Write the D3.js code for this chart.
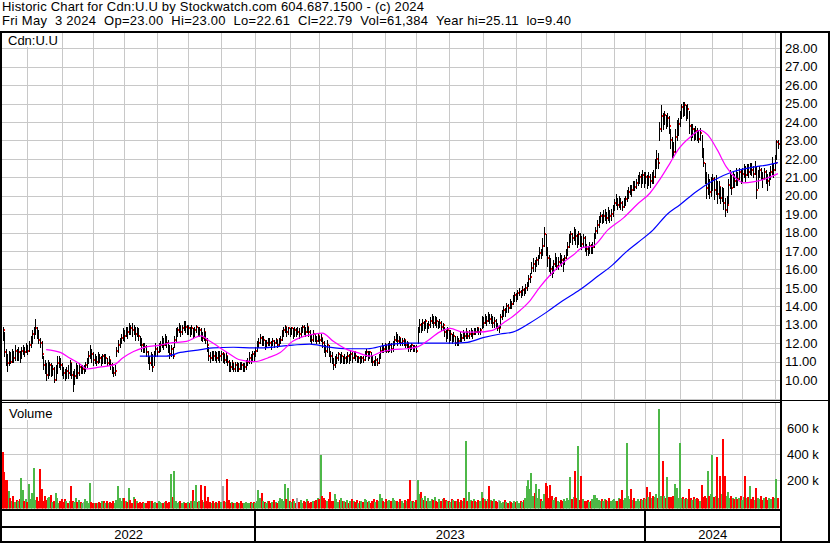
<!DOCTYPE html>
<html><head><meta charset="utf-8">
<script src="https://cdn.jsdelivr.net/npm/d3@7"></script>
<style>
html,body{margin:0;padding:0;background:#fff;}
svg{display:block;}
text{font-family:"Liberation Sans",Arial,sans-serif;}
</style></head><body>
<svg id="c" width="830" height="543"></svg>
<script>
const title1 = "Historic Chart for Cdn:U.U by Stockwatch.com 604.687.1500 - (c) 2024";
const title2 = "Fri May  3 2024  Op=23.00  Hi=23.00  Lo=22.61  Cl=22.79  Vol=61,384  Year hi=25.11  lo=9.40";
const symbolLabel = "Cdn:U.U";
const volumeLabel = "Volume";
const priceTicks = [10,11,12,13,14,15,16,17,18,19,20,21,22,23,24,25,26,27,28];
const priceGrid = [9,10,11,12,13,14,15,16,17,18,19,20,21,22,23,24,25,26,27,28];
const volTicks = [200000,400000,600000];
const monthStarts = [16,38,58,78,99,119,140,162,184,203,224,245,265,286,308,329,348,371,392,412,434,455,474,495];
const yearStarts = [162,412];
const yearLabels = ["2022","2023","2024"];

const close = [
12.7,11.5,11.2,10.9,11.3,11.0,11.4,11.2,11.6,11.3,
11.5,11.2,11.6,11.7,11.5,11.8,11.6,11.9,12.2,12.5,
12.7,12.8,12.6,12.2,12.0,11.4,10.8,10.6,10.3,10.5,
10.8,10.4,10.6,10.0,10.5,10.9,11.0,10.8,10.6,10.4,
10.2,10.5,10.4,10.9,10.3,9.8,10.2,10.6,10.4,10.7,
10.5,10.6,10.6,10.8,11.0,11.3,11.6,11.4,11.1,11.2,
11.0,11.3,11.2,11.0,11.3,11.1,11.2,10.9,11.1,10.8,
10.6,10.4,10.5,11.6,11.9,12.1,12.3,12.6,12.4,12.8,
12.6,12.9,12.8,12.7,12.8,12.5,12.7,12.4,12.1,11.9,
11.7,11.8,11.5,11.2,10.9,11.3,10.7,11.4,11.7,11.5,
11.8,11.9,12.1,11.9,12.3,12.0,11.8,11.4,11.7,11.3,
12.2,12.5,12.7,12.9,12.6,12.8,13.0,12.9,12.7,12.8,
12.6,12.8,12.5,12.7,12.9,12.6,12.7,12.5,12.3,12.6,
12.2,11.9,11.3,11.2,11.5,11.3,11.4,11.2,11.5,11.3,
11.4,11.4,11.1,11.3,11.0,10.8,10.7,10.9,10.6,10.8,
10.7,10.6,10.9,10.8,10.6,10.7,10.9,11.0,11.2,11.1,
11.4,11.3,11.6,11.9,12.0,12.3,12.1,12.2,11.9,12.0,
12.2,12.0,11.9,12.1,12.0,12.2,11.9,12.1,12.2,12.5,
12.7,12.9,12.6,12.8,12.6,12.8,12.5,12.7,12.6,12.6,
12.5,12.7,12.9,12.8,12.6,12.9,12.6,12.4,12.2,12.5,
12.3,12.1,12.4,12.2,12.3,12.0,11.8,11.6,11.9,11.5,
11.3,11.1,10.8,11.0,11.2,11.4,11.1,11.3,11.0,11.2,
11.0,11.3,11.1,11.4,11.2,11.5,11.3,11.1,11.2,11.0,
11.2,11.1,11.4,11.5,11.3,11.5,11.2,11.0,10.9,11.1,
10.9,11.2,11.6,11.8,11.7,11.9,11.6,11.8,11.9,11.7,
12.0,12.2,12.4,12.1,12.3,12.0,12.1,12.2,11.9,12.0,
11.8,11.7,11.9,11.7,11.8,11.6,12.6,13.0,12.8,13.1,
12.9,13.2,12.8,13.0,13.2,13.4,13.1,13.3,13.2,12.9,
13.1,12.9,13.0,12.6,12.4,12.7,12.3,12.5,12.2,12.4,
12.0,12.2,12.1,12.4,12.3,12.5,12.4,12.6,12.4,12.5,
12.6,12.5,12.7,12.6,12.8,12.6,12.7,13.3,13.1,13.4,
13.2,13.5,13.3,13.4,13.1,13.2,13.0,12.8,12.8,13.4,
13.6,13.8,13.7,14.0,13.9,14.2,14.1,14.4,14.6,14.5,
14.7,14.8,14.6,14.9,14.8,15.0,15.1,15.5,15.6,16.1,
16.3,16.2,16.5,16.6,16.9,16.8,17.3,17.9,17.0,16.6,
16.4,16.0,15.8,16.3,16.5,16.2,16.4,16.7,16.5,16.3,
16.6,16.9,17.2,17.6,17.9,17.7,18.0,17.8,17.5,17.9,
17.6,17.4,17.7,17.3,17.1,17.0,17.3,17.1,17.2,17.8,
18.1,18.4,18.6,18.9,18.7,18.9,19.0,18.8,19.1,18.9,
19.0,19.3,19.6,19.8,19.5,19.7,19.6,19.4,19.7,19.8,
20.0,20.2,20.4,20.3,20.6,20.5,20.7,20.9,21.0,20.8,
21.1,20.9,21.0,20.7,21.0,20.8,21.1,21.0,21.6,22.0,
21.8,23.6,24.3,24.0,24.4,23.9,24.2,23.8,23.0,22.6,
22.4,23.2,23.5,23.9,24.3,24.8,24.6,24.9,24.5,24.7,
23.8,23.4,23.6,23.2,23.5,23.3,23.1,23.4,22.4,21.8,
21.0,20.4,20.8,20.2,20.6,20.9,20.3,20.7,20.1,20.5,
19.9,20.3,19.6,19.2,19.5,20.6,20.9,20.4,21.0,20.8,
21.1,20.9,21.3,21.0,21.2,21.4,21.1,21.5,21.3,21.6,
21.4,21.2,21.5,20.3,21.1,21.4,21.2,20.9,21.3,21.1,
20.8,21.0,21.3,21.6,21.4,21.8,22.9,22.79];

const high = [
12.9,12.6,11.7,11.4,11.6,11.5,11.7,11.6,11.9,11.7,
11.8,11.6,11.8,11.9,11.8,12.0,11.9,12.1,12.4,12.7,
12.9,13.3,12.9,12.7,12.3,12.1,11.3,11.1,10.9,11.1,
11.0,10.9,10.8,10.7,10.8,11.3,11.3,11.2,10.9,10.7,
10.6,10.7,10.8,11.1,10.9,10.5,10.6,10.9,10.8,10.9,
10.8,10.8,10.8,11.0,11.2,11.6,11.9,11.7,11.5,11.4,
11.3,11.5,11.4,11.3,11.4,11.4,11.4,11.2,11.3,11.1,
10.9,10.7,10.8,11.8,12.2,12.3,12.5,12.8,12.7,12.9,
12.9,13.1,13.0,13.1,13.0,12.9,12.9,12.8,12.4,12.3,
12.0,12.0,11.9,11.6,11.3,11.5,11.4,11.6,12.0,11.8,
12.0,12.1,12.4,12.3,12.5,12.4,12.2,11.9,11.9,11.8,
12.4,12.8,12.9,13.1,13.0,13.0,13.2,13.2,13.0,13.0,
12.9,13.0,12.8,12.9,13.0,12.9,12.9,12.8,12.6,12.8,
12.6,12.3,11.8,11.5,11.6,11.6,11.6,11.5,11.6,11.6,
11.6,11.5,11.4,11.5,11.3,11.1,11.0,11.1,10.9,11.0,
11.0,10.9,11.0,11.0,10.9,10.9,11.1,11.2,11.5,11.4,
11.6,11.6,11.8,12.1,12.3,12.5,12.4,12.4,12.2,12.2,
12.3,12.3,12.1,12.3,12.2,12.3,12.2,12.3,12.4,12.7,
12.9,13.0,12.9,12.9,12.8,12.9,12.8,12.9,12.8,12.9,
12.8,12.9,13.0,13.0,12.9,13.1,12.9,12.7,12.5,12.7,
12.5,12.4,12.5,12.4,12.5,12.3,12.1,11.9,12.2,11.9,
11.6,11.5,11.2,11.3,11.4,11.5,11.4,11.5,11.3,11.4,
11.3,11.5,11.4,11.6,11.5,11.6,11.5,11.3,11.3,11.3,
11.3,11.3,11.6,11.7,11.6,11.6,11.5,11.3,11.1,11.3,
11.2,11.4,11.8,12.0,11.9,12.0,11.9,12.0,12.1,12.0,
12.1,12.4,12.6,12.5,12.4,12.3,12.3,12.3,12.2,12.1,
12.0,11.9,12.0,11.9,11.9,11.9,12.9,13.3,13.1,13.3,
13.2,13.3,13.1,13.2,13.4,13.6,13.5,13.5,13.4,13.2,
13.3,13.2,13.1,12.9,12.7,12.9,12.7,12.7,12.5,12.6,
12.4,12.4,12.3,12.6,12.5,12.7,12.6,12.8,12.6,12.7,
12.8,12.7,12.8,12.8,12.9,12.8,12.8,13.5,13.4,13.6,
13.5,13.7,13.6,13.6,13.5,13.4,13.3,13.1,13.0,13.6,
13.8,14.0,13.9,14.2,14.1,14.4,14.3,14.6,14.8,14.7,
14.9,15.0,14.9,15.1,15.0,15.2,15.3,15.7,15.8,16.4,
16.6,16.5,16.7,16.8,17.2,17.1,17.7,18.3,17.9,17.2,
16.8,16.6,16.2,16.5,16.9,16.7,16.7,16.9,16.8,16.6,
16.8,17.1,17.5,17.9,18.1,18.0,18.3,18.2,17.9,18.1,
18.0,17.8,17.9,17.8,17.4,17.3,17.5,17.4,17.5,18.0,
18.3,18.7,18.9,19.1,19.0,19.2,19.3,19.1,19.4,19.2,
19.3,19.5,19.8,20.1,19.9,20.0,19.9,19.7,19.9,20.0,
20.3,20.5,20.6,20.6,20.8,20.8,20.9,21.1,21.3,21.2,
21.4,21.3,21.3,21.1,21.3,21.2,21.3,21.4,22.0,22.5,
22.3,24.0,24.9,24.5,24.6,24.4,24.5,24.3,23.6,23.2,
22.9,23.6,24.1,24.2,24.6,25.0,25.11,25.1,24.9,25.0,
24.6,23.9,23.9,23.7,23.8,23.7,23.5,23.7,23.3,22.6,
21.8,21.3,21.2,20.9,21.0,21.2,21.0,21.1,20.8,20.8,
20.5,20.5,20.4,19.9,20.0,20.9,21.4,21.1,21.3,21.2,
21.5,21.3,21.5,21.4,21.5,21.7,21.6,21.7,21.7,21.8,
21.8,21.6,21.9,21.6,21.4,21.6,21.5,21.3,21.5,21.4,
21.2,21.3,21.6,22.1,21.8,22.2,23.0,23.0];

const low = [
12.2,11.3,10.8,10.5,10.8,10.9,11.0,11.0,11.1,11.1,
11.1,11.0,11.2,11.4,11.3,11.5,11.4,11.6,11.8,12.0,
12.3,12.5,12.3,12.0,11.8,11.2,10.6,10.4,10.0,10.1,
10.3,10.2,10.3,9.9,10.0,10.4,10.7,10.6,10.3,10.1,
10.0,10.1,10.1,10.3,10.1,9.4,9.8,10.1,10.1,10.3,
10.4,10.4,10.4,10.5,10.7,10.9,11.2,11.0,10.8,10.9,
10.8,10.9,11.0,10.8,10.9,10.9,10.9,10.8,10.8,10.6,
10.4,10.2,10.3,11.3,11.5,11.8,12.0,12.2,12.1,12.4,
12.3,12.5,12.5,12.4,12.5,12.2,12.4,12.2,11.9,11.6,
11.5,11.5,11.3,10.9,10.6,10.8,10.5,10.8,11.3,11.3,
11.5,11.6,11.8,11.7,11.9,11.8,11.5,11.2,11.3,11.2,
11.8,12.1,12.4,12.6,12.4,12.5,12.7,12.6,12.5,12.5,
12.4,12.5,12.3,12.4,12.6,12.4,12.4,12.2,12.1,12.2,
12.0,11.6,11.1,11.0,11.1,11.1,11.1,11.0,11.1,11.0,
11.1,11.0,10.9,11.0,10.8,10.5,10.5,10.6,10.5,10.5,
10.5,10.5,10.6,10.6,10.5,10.5,10.6,10.8,10.9,10.9,
11.1,11.1,11.3,11.6,11.8,12.0,11.9,11.9,11.7,11.8,
11.9,11.9,11.7,11.9,11.8,12.0,11.8,11.9,12.0,12.2,
12.4,12.6,12.4,12.5,12.4,12.5,12.3,12.4,12.4,12.5,
12.3,12.4,12.6,12.5,12.4,12.6,12.4,12.1,12.0,12.1,
12.1,12.0,12.1,12.0,12.1,11.8,11.5,11.3,11.5,11.3,
11.0,10.9,10.6,10.7,10.9,11.1,10.9,11.0,10.9,10.9,
10.9,11.0,10.9,11.1,11.0,11.2,11.1,11.0,11.0,10.9,
11.0,11.0,11.1,11.3,11.1,11.2,11.0,10.8,10.8,10.8,
10.8,10.9,11.2,11.5,11.5,11.6,11.5,11.5,11.6,11.5,
11.6,11.9,12.1,11.9,12.0,11.9,11.9,11.9,11.8,11.8,
11.6,11.6,11.7,11.6,11.6,11.5,12.0,12.6,12.6,12.7,
12.7,12.8,12.6,12.8,12.9,13.1,12.9,13.0,12.9,12.8,
12.9,12.7,12.7,12.4,12.1,12.3,12.0,12.2,12.0,12.1,
11.9,11.9,11.9,12.1,12.1,12.3,12.2,12.3,12.3,12.3,
12.4,12.3,12.5,12.5,12.6,12.5,12.5,12.8,12.9,13.1,
13.0,13.2,13.1,13.1,12.9,12.9,12.8,12.7,12.6,12.9,
13.3,13.5,13.5,13.7,13.7,13.9,13.9,14.1,14.3,14.3,
14.4,14.6,14.5,14.6,14.6,14.7,14.9,15.1,15.3,15.8,
15.9,15.9,16.2,16.3,16.6,16.6,16.8,17.3,16.8,16.2,
15.9,15.7,15.6,15.8,16.2,16.0,16.0,16.3,16.2,15.9,
16.3,16.6,16.8,17.2,17.5,17.4,17.6,17.4,17.2,17.4,
17.3,17.1,17.3,17.0,16.8,16.8,16.9,16.9,16.9,17.2,
17.7,18.0,18.3,18.6,18.5,18.6,18.7,18.5,18.7,18.6,
18.7,18.9,19.2,19.5,19.3,19.4,19.3,19.2,19.4,19.5,
19.7,19.9,20.1,20.0,20.3,20.3,20.4,20.6,20.7,20.5,
20.7,20.5,20.7,20.4,20.6,20.5,20.7,20.7,21.0,21.5,
21.5,23.0,23.5,23.6,23.9,23.7,23.8,23.4,22.6,22.1,
22.1,22.3,23.0,23.3,23.8,24.2,24.3,24.4,24.1,24.2,
23.4,23.0,23.2,23.0,23.1,23.0,22.9,23.0,22.1,21.6,
20.7,19.9,20.1,19.9,20.0,20.3,19.8,20.1,19.6,19.9,
19.6,19.7,19.3,18.9,19.1,19.6,20.4,20.1,20.5,20.5,
20.6,20.6,20.9,20.7,20.8,21.0,20.8,21.1,21.0,21.2,
21.1,21.0,21.2,19.9,20.4,21.0,20.9,20.5,20.9,20.7,
20.3,20.6,20.9,21.2,21.0,21.4,22.0,22.61];

// volume in thousands of units
const volume = [
420,260,200,200,117,60,40,80,30,45,
35,50,214,120,40,55,30,168,50,100,
290,45,70,40,282,130,35,80,45,60,
70,85,30,40,100,60,25,35,50,30,
50,40,25,35,153,40,30,60,30,45,
30,25,30,50,35,20,176,30,25,20,
25,20,30,20,40,35,25,40,20,30,
25,35,20,45,153,60,40,60,60,35,
30,138,45,25,70,55,40,20,30,25,
30,20,25,35,40,40,40,25,30,20,
35,30,25,20,30,40,25,30,245,70,
270,40,25,30,35,20,30,25,20,30,
25,35,125,40,160,30,35,160,45,30,
155,35,70,30,25,40,20,30,25,35,
30,150,40,30,206,45,25,30,20,25,
30,20,25,35,20,25,30,20,25,30,
25,30,20,35,125,60,100,40,30,25,
35,40,25,30,45,30,25,40,60,50,
40,168,55,140,40,30,50,35,25,60,
30,45,25,40,30,55,35,25,30,40,
35,45,60,50,390,80,60,45,40,55,
110,40,35,95,50,30,45,60,35,40,
30,45,25,40,50,35,30,45,25,35,
40,30,55,45,30,40,25,35,50,30,
45,35,90,60,40,30,50,35,45,40,
60,45,35,40,30,50,35,25,45,40,
55,200,40,35,30,45,200,90,110,60,
45,80,40,60,35,50,45,70,40,30,
55,40,50,60,45,35,40,30,55,45,
40,35,50,30,45,40,60,500,35,110,
45,35,50,40,30,45,35,110,60,50,
40,55,150,45,35,50,40,30,45,35,
25,30,45,30,20,40,30,25,35,30,
40,25,35,30,45,60,150,200,130,255,
80,100,170,60,130,50,40,90,175,150,
60,160,80,45,60,70,40,30,45,35,
50,40,60,45,220,50,70,270,60,465,
45,235,50,40,35,45,30,40,55,85,
85,60,45,35,50,40,55,45,35,60,
40,45,55,35,40,60,50,125,45,60,
490,75,50,130,45,60,40,55,35,50,
45,60,55,145,70,110,60,80,70,90,
60,750,80,345,75,60,220,70,70,65,
80,170,140,60,490,60,65,55,60,50,
130,60,45,70,55,60,50,40,160,70,
80,60,270,75,90,390,70,80,375,60,
230,90,520,230,75,110,60,80,60,50,
70,55,60,80,45,65,235,60,70,150,
55,70,45,140,60,50,80,45,60,70,
45,60,55,50,70,60,205,61.4];

// moving averages: bar index and value
const maShortIdx = [28,37,43,50,54,62,72,77,84,90,101,107,118,127,133,144,152,161,165,170,178,186,197,205,212,221,227,236,242,250,259,266,272,280,287,295,304,314,321,327,332,338,344,351,359,366,372,378,388,398,407,415,421,428,433,441,447,452,458,464,470,475,481,490,497];
const maShortVal = [11.65,11.5,11.2,10.85,10.6,10.7,10.85,11.2,11.55,11.75,11.9,12.0,12.1,12.4,12.1,11.5,11.1,11.0,11.05,11.2,11.5,12.1,12.45,12.55,12.1,11.65,11.5,11.3,11.5,11.65,11.7,11.8,12.1,12.6,12.8,12.6,12.6,12.7,13.1,13.45,13.8,14.3,15.0,15.7,16.35,16.8,17.2,17.25,18.15,18.8,19.55,20.15,20.85,21.8,22.5,23.2,23.55,23.3,22.5,21.55,20.95,20.7,20.75,20.95,21.2];
const maLongIdx = [88,105,114,127,135,148,161,165,186,197,208,221,234,246,259,285,298,308,319,327,338,349,359,370,381,391,399,407,417,426,434,445,455,468,481,492,497];
const maLongVal = [11.3,11.3,11.5,11.65,11.75,11.78,11.75,11.75,11.9,11.95,11.8,11.7,11.7,11.9,12.0,12.0,12.05,12.3,12.5,12.6,13.1,13.7,14.3,14.9,15.6,16.25,16.9,17.45,18.15,19.0,19.5,20.25,20.8,21.3,21.55,21.7,21.8];

const N = Math.min(close.length, high.length, low.length, volume.length);
const svg = d3.select("#c");
const FONT = "'Liberation Sans', Arial, sans-serif";
const PL = 2, PR = 780, PT = 33, PB = 400, VT = 403, VB = 508.5;

const x = d3.scaleLinear().domain([0, N - 1]).range([2.5, 778]);
const y = d3.scaleLinear().domain([9, 28]).range([398.5, 48.3]);
const vy = d3.scaleLinear().domain([0, 600000]).range([505.9, 428.3]);

svg.append("rect").attr("width",830).attr("height",543).attr("fill","#fff");

const defs = svg.append("defs");
defs.append("clipPath").attr("id","clipP").append("rect").attr("x",PL).attr("y",PT).attr("width",PR-PL).attr("height",PB-PT);
defs.append("clipPath").attr("id","clipV").append("rect").attr("x",PL).attr("y",VT).attr("width",PR-PL).attr("height",VB-VT);

// grids
const grid = svg.append("g").attr("shape-rendering","crispEdges").attr("stroke","#c8c8c8").attr("stroke-width",1);
priceGrid.forEach(v => {
  const yy = Math.round(y(v)) + 0.5;
  if (yy > PT && yy < PB) grid.append("line").attr("x1",PL).attr("x2",PR).attr("y1",yy).attr("y2",yy);
});
volTicks.forEach(v => {
  const yy = Math.round(vy(v)) + 0.5;
  grid.append("line").attr("x1",PL).attr("x2",PR).attr("y1",yy).attr("y2",yy);
});
monthStarts.forEach(i => {
  const xx = Math.round(x(i)) + 0.5;
  grid.append("line").attr("x1",xx).attr("x2",xx).attr("y1",PT).attr("y2",PB);
  grid.append("line").attr("x1",xx).attr("x2",xx).attr("y1",VT).attr("y2",VB);
});

// price bars: black high-low stroke with red close tick
const gBars = svg.append("g").attr("clip-path","url(#clipP)").attr("shape-rendering","crispEdges");
for (let i = 0; i < N; i++) {
  const xi = Math.round(x(i));
  const yt = Math.round(y(high[i])), yb = Math.round(y(low[i]));
  gBars.append("rect").attr("x", xi).attr("y", yt).attr("width", 1).attr("height", Math.max(1, yb - yt + 1)).attr("fill", "#000");
  gBars.append("rect").attr("x", xi + 1).attr("y", Math.round(y(close[i])) - 1).attr("width", 1).attr("height", 2).attr("fill", "#ff0000");
}

// moving averages
const line = d3.line().x(d => x(d[0])).y(d => y(d[1])).curve(d3.curveMonotoneX);
const gMA = svg.append("g").attr("clip-path","url(#clipP)").attr("fill","none").attr("stroke-width",1.2);
gMA.append("path").attr("d", line(maLongIdx.map((d,k)=>[d, maLongVal[k]]))).attr("stroke","#0000ff");
gMA.append("path").attr("d", line(maShortIdx.map((d,k)=>[d, maShortVal[k]]))).attr("stroke","#ff00ff");

// volume bars
const gVol = svg.append("g").attr("clip-path","url(#clipV)").attr("shape-rendering","crispEdges");
for (let i = 0; i < N; i++) {
  const xi = Math.round(x(i));
  const d = i === 0 ? -1 : Math.sign(close[i] - close[i-1]);
  const col = d > 0 ? "#4db848" : (d < 0 ? "#ff0000" : "#a8a8a8");
  const yt = Math.round(vy(volume[i] * 1000));
  gVol.append("rect").attr("x", xi - 1).attr("y", yt).attr("width", 2).attr("height", Math.max(1, VB + 1 - yt)).attr("fill", col);
}

// labels in panels
svg.append("rect").attr("x",PL).attr("y",PT).attr("width",57).attr("height",14).attr("fill","#fff");
svg.append("text").attr("x",8).attr("y",45).attr("font-size",13).attr("font-family",FONT).attr("fill","#000").text(symbolLabel);
svg.append("rect").attr("x",PL).attr("y",VT+1).attr("width",52).attr("height",16).attr("fill","#fff");
svg.append("text").attr("x",9).attr("y",418).attr("font-size",13).attr("font-family",FONT).attr("fill","#000").text(volumeLabel);

// axes
const yAxis = d3.axisRight(y).tickValues(priceTicks).tickSize(0).tickPadding(4).tickFormat(d3.format(".2f"));
const ga = svg.append("g").attr("transform","translate(781,0)").call(yAxis);
ga.select(".domain").remove();
ga.selectAll("text").attr("font-size",13).attr("font-family",FONT).attr("fill","#000");
const vAxis = d3.axisRight(vy).tickValues(volTicks).tickSize(0).tickPadding(6).tickFormat(v => (v/1000) + " k");
const gv = svg.append("g").attr("transform","translate(781,0)").call(vAxis);
gv.select(".domain").remove();
gv.selectAll("text").attr("font-size",13).attr("font-family",FONT).attr("fill","#000");

// frame
const fr = svg.append("g").attr("fill","#000").attr("shape-rendering","crispEdges");
fr.append("rect").attr("x",0).attr("y",31).attr("width",830).attr("height",2);
fr.append("rect").attr("x",0).attr("y",31).attr("width",2).attr("height",512);
fr.append("rect").attr("x",828).attr("y",31).attr("width",2).attr("height",512);
fr.append("rect").attr("x",780).attr("y",31).attr("width",2).attr("height",512);
fr.append("rect").attr("x",0).attr("y",400).attr("width",830).attr("height",1);
fr.append("rect").attr("x",0).attr("y",402).attr("width",780).attr("height",1);
fr.append("rect").attr("x",0).attr("y",509).attr("width",780).attr("height",2);
fr.append("rect").attr("x",0).attr("y",526).attr("width",780).attr("height",2);
fr.append("rect").attr("x",0).attr("y",541).attr("width",830).attr("height",2);
yearStarts.forEach(i => {
  const xx = Math.round(x(i));
  fr.append("rect").attr("x",xx-1).attr("y",509).attr("width",2).attr("height",33);
});

// year labels
const bounds = [PL, ...yearStarts.map(i => x(i)), PR];
yearLabels.forEach((t,k) => {
  svg.append("text").attr("x",(bounds[k]+bounds[k+1])/2).attr("y",539).attr("text-anchor","middle")
    .attr("font-size",13).attr("font-family",FONT).attr("fill","#000").text(t);
});

// header
svg.append("text").attr("x",2).attr("y",11).attr("font-size",13).attr("font-family",FONT).attr("fill","#000")
  .attr("textLength",422).attr("lengthAdjust","spacing").text(title1);
svg.append("text").attr("x",2).attr("y",25).attr("font-size",13).attr("font-family",FONT).attr("fill","#000")
  .attr("textLength",569).attr("lengthAdjust","spacing").text(title2.replace(/  /g, " \u00A0"));
</script>
</body></html>
